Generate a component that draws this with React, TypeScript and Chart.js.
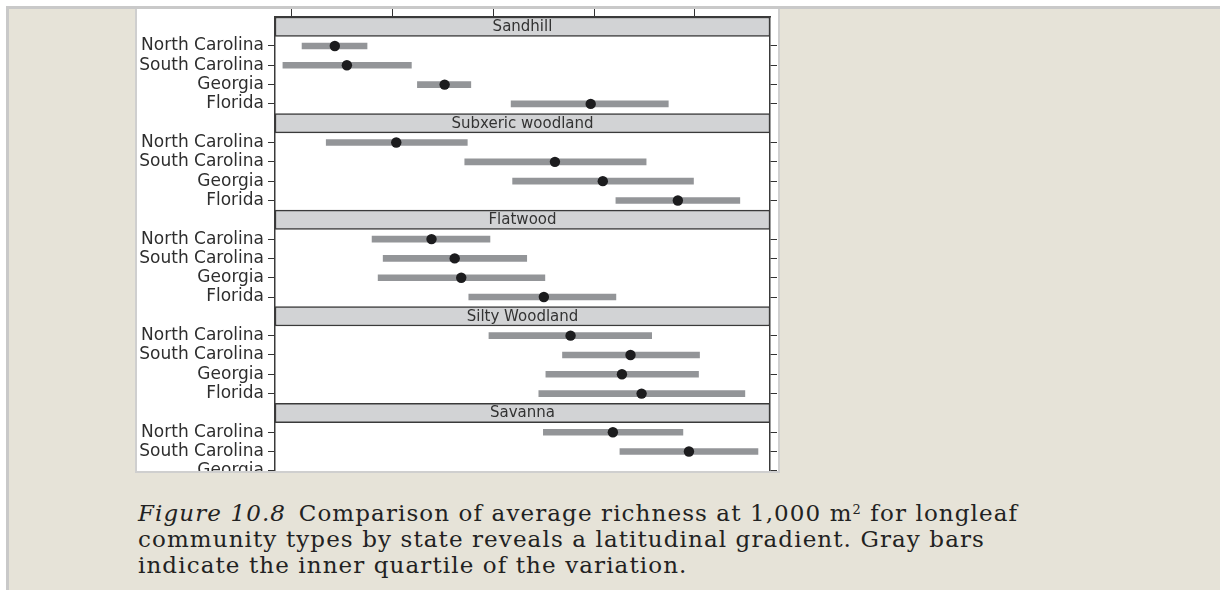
import React, { useEffect, useRef } from 'react';
import { Chart, registerables } from 'chart.js';

Chart.register(...registerables);

// ---- data -------------------------------------------------------------
const communities = ['Sandhill', 'Subxeric woodland', 'Flatwood', 'Silty Woodland', 'Savanna'];
const states = ['North Carolina', 'South Carolina', 'Georgia', 'Florida'];

// inner quartile (low / high) and average (mid), in the state order above
const sandhillLow = [22.0, 18.2, 44.9, 63.5];
const sandhillMid = [28.5, 30.9, 50.3, 79.3];
const sandhillHigh = [34.9, 43.7, 55.5, 94.7];

const subxericLow = [26.8, 54.3, 63.8, 84.3];
const subxericMid = [40.7, 72.2, 81.7, 96.6];
const subxericHigh = [54.8, 90.3, 99.7, 108.9];

const flatwoodLow = [35.9, 38.1, 37.1, 55.1];
const flatwoodMid = [47.7, 52.3, 53.6, 70.0];
const flatwoodHigh = [59.3, 66.6, 70.2, 84.3];

const siltyLow = [59.1, 73.7, 70.4, 69.0];
const siltyMid = [75.3, 87.2, 85.5, 89.4];
const siltyHigh = [91.4, 100.9, 100.7, 109.9];

const savannaLow = [69.9, 85.1, null, null];
const savannaMid = [83.7, 98.8, null, null];
const savannaHigh = [97.6, 112.5, null, null];

const xTicks = [20, 40, 60, 80, 100];
const X_MIN = 16.63;
const X_MAX = 114.89;

const captionLines = [
  'Comparison of average richness at 1,000 m',
  ' for longleaf',
  'community types by state reveals a latitudinal gradient. Gray bars',
  'indicate the inner quartile of the variation.',
];

// ---- derived rows -----------------------------------------------------
const lows = [sandhillLow, subxericLow, flatwoodLow, siltyLow, savannaLow];
const mids = [sandhillMid, subxericMid, flatwoodMid, siltyMid, savannaMid];
const highs = [sandhillHigh, subxericHigh, flatwoodHigh, siltyHigh, savannaHigh];

type Row = { label: string; strip: boolean; lo: number | null; mid: number | null; hi: number | null };
const rows: Row[] = [];
communities.forEach((c, ci) => {
  rows.push({ label: '', strip: true, lo: null, mid: null, hi: null });
  states.forEach((s, si) => {
    rows.push({ label: s, strip: false, lo: lows[ci][si], mid: mids[ci][si], hi: highs[ci][si] });
  });
});

const stripLabelPlugin = {
  id: 'stripLabels',
  afterDatasetsDraw(chart: any) {
    const { ctx, chartArea, scales } = chart;
    ctx.save();
    ctx.font = '15px "DejaVu Sans"';
    ctx.fillStyle = '#333333';
    ctx.textAlign = 'center';
    ctx.textBaseline = 'middle';
    communities.forEach((c, i) => {
      const y = scales.y.getPixelForValue(i * 5);
      ctx.fillText(c, (chartArea.left + chartArea.right) / 2, y + 0.5);
    });
    ctx.restore();
  },
};

const AXIS_COLOR = '#3a3a3a';

const noPadV = (s: any, w: number) => {
  s.width = w;
  s.paddingTop = 0;
  s.paddingBottom = 0;
};

function RichnessChart() {
  const ref = useRef<HTMLCanvasElement | null>(null);
  useEffect(() => {
    if (!ref.current) return;
    const labels = rows.map((r) => r.label);
    const tickColor = (ctx: any) => (rows[ctx.index] && !rows[ctx.index].strip ? '#333333' : 'rgba(0,0,0,0)');
    const chart = new Chart(ref.current, {
      type: 'bar',
      data: {
        labels,
        datasets: [
          {
            type: 'line',
            indexAxis: 'y',
            data: rows.map((r) => r.mid),
            showLine: false,
            pointRadius: 5.2,
            pointHoverRadius: 5.2,
            pointBackgroundColor: '#1c1c1e',
            pointBorderColor: '#1c1c1e',
            pointBorderWidth: 0,
            order: 0,
            xAxisID: 'x',
            yAxisID: 'y',
          } as any,
          {
            data: rows.map((r) => (r.lo != null && r.hi != null ? [r.lo, r.hi] : null)) as any,
            backgroundColor: '#939598',
            borderWidth: 0,
            barThickness: 6,
            grouped: false,
            order: 1,
            xAxisID: 'x',
            yAxisID: 'y',
          },
          {
            data: rows.map((r) => (r.strip ? [X_MIN, X_MAX] : null)) as any,
            backgroundColor: '#d2d3d5',
            borderColor: AXIS_COLOR,
            borderWidth: 1.5,
            borderSkipped: false,
            barPercentage: 1,
            categoryPercentage: 1,
            grouped: false,
            order: 2,
            xAxisID: 'x',
            yAxisID: 'y',
          },
        ],
      },
      options: {
        indexAxis: 'y',
        responsive: false,
        animation: false,
        devicePixelRatio: 1,
        layout: { padding: 0 },
        plugins: { legend: { display: false }, tooltip: { enabled: false } },
        scales: {
          x: {
            type: 'linear',
            position: 'top',
            min: X_MIN,
            max: X_MAX,
            afterBuildTicks: (s: any) => {
              s.ticks = xTicks.map((v) => ({ value: v }));
            },
            afterFit: (s: any) => {
              s.height = 8;
              s.paddingLeft = 0;
              s.paddingRight = 0;
            },
            ticks: { display: false },
            grid: { drawOnChartArea: false, drawTicks: true, tickLength: 8, tickColor: '#333333', tickWidth: 1 },
            border: { display: true, color: AXIS_COLOR, width: 1.5, z: 1 },
          },
          y: {
            type: 'category',
            position: 'left',
            offset: true,
            afterFit: (s: any) => noPadV(s, 138),
            ticks: {
              autoSkip: false,
              padding: 4,
              color: '#2e2e2e',
              font: { family: 'DejaVu Sans', size: 17 },
            },
            grid: { offset: false, drawOnChartArea: false, drawTicks: true, tickLength: 7, tickColor, tickWidth: 1 },
            border: { display: true, color: AXIS_COLOR, width: 1.5, z: 1 },
          },
          y2: {
            type: 'category',
            position: 'right',
            offset: true,
            afterFit: (s: any) => noPadV(s, 8),
            ticks: { display: false, autoSkip: false },
            grid: { offset: false, drawOnChartArea: false, drawTicks: true, tickLength: 7, tickColor, tickWidth: 1 },
            border: { display: true, color: AXIS_COLOR, width: 1.5, z: 1 },
          },
        },
      } as any,
      plugins: [stripLabelPlugin],
    });
    return () => chart.destroy();
  }, []);
  return <canvas ref={ref} width={641} height={496} style={{ display: 'block', width: 641, height: 496 }} />;
}

export default function App() {
  return (
    <div style={{ position: 'fixed', left: 0, top: 0, width: 1220, height: 590, background: '#ffffff', overflow: 'hidden' }}>
      <div
        style={{
          position: 'absolute',
          left: 6,
          top: 6,
          right: 0,
          bottom: 0,
          background: '#e6e3d8',
          borderTop: '3px solid #c9c9c9',
          borderLeft: '3px solid #c9c9c9',
          boxSizing: 'border-box',
        }}
      />
      <div
        style={{
          position: 'absolute',
          left: 135,
          top: 9,
          width: 641,
          height: 462,
          background: '#ffffff',
          borderLeft: '2px solid #cfcfcf',
          borderRight: '2px solid #cfcfcf',
          borderBottom: '2px solid #cfcfcf',
          overflow: 'hidden',
        }}
      >
        <RichnessChart />
      </div>
      <div
        style={{
          position: 'absolute',
          left: 138,
          top: 500,
          whiteSpace: 'nowrap',
          fontFamily: '"DejaVu Serif", serif',
          fontSize: 23,
          letterSpacing: '1.1px',
          lineHeight: '26px',
          color: '#222222',
        }}
      >
        <i>Figure 10.8</i>
        {'\u2002'}
        {captionLines[0]}
        <sup style={{ fontSize: 13, verticalAlign: 'top', lineHeight: '20px' }}>2</sup>
        {captionLines[1]}
        <br />
        {captionLines[2]}
        <br />
        {captionLines[3]}
      </div>
    </div>
  );
}
